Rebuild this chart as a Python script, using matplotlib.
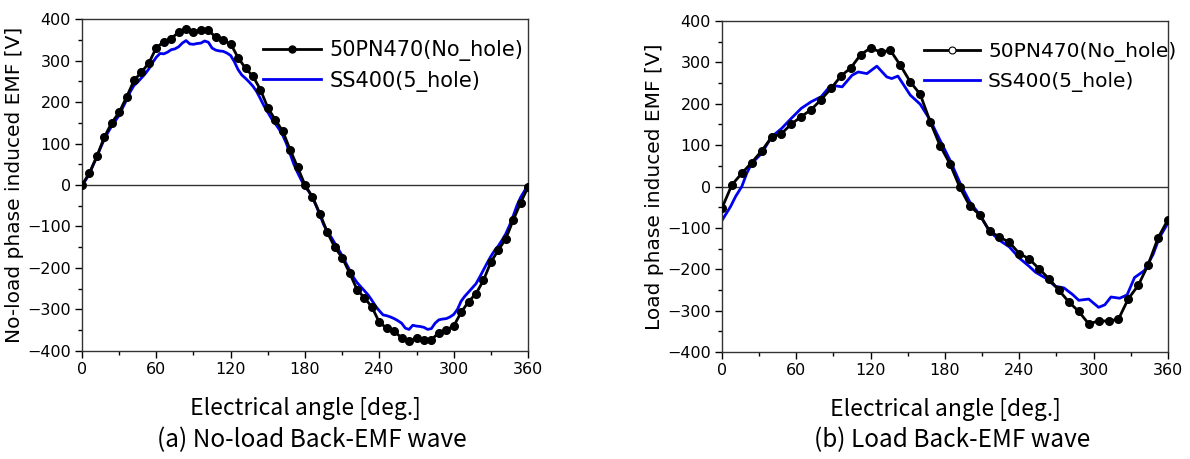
import numpy as np
import matplotlib.pyplot as plt
from matplotlib.lines import Line2D
from matplotlib.ticker import MultipleLocator

# (a) no-load back-EMF, 50PN470 sampled every 6 deg, SS400 every 3 deg
ang_a_black = np.arange(0, 361, 6)
emf_a_black = [0, 29, 69, 115, 150, 175, 212, 252, 272, 294, 331, 345, 353, 368, 376, 369,
               373, 373, 356, 349, 340, 307, 281, 262, 230, 186, 157, 130, 85, 43, 0,
               -29, -69, -114, -150, -175, -212, -252, -272, -294, -331, -345, -353, -368,
               -376, -369, -373, -373, -356, -349, -340, -307, -281, -262, -230, -186, -157,
               -130, -85, -43, -5]
ang_a_blue = np.arange(0, 361, 3)
emf_a_blue = [0, 12, 27, 48, 68, 90, 110, 127, 142, 155,
              168, 187, 205, 225, 240, 248, 258, 268, 280, 295,
              308, 317, 316, 320, 326, 328, 333, 342, 348, 340,
              339, 341, 342, 347, 344, 330, 325, 323, 322, 318,
              312, 297, 278, 265, 257, 248, 238, 225, 208, 190,
              175, 160, 148, 135, 120, 100, 75, 50, 30, 12, -5,
              -15, -30, -50, -72, -95, -112, -125, -140, -155, -170,
              -188, -205, -222, -235, -245, -255, -265, -278, -292, -303,
              -313, -315, -318, -322, -327, -333, -345, -348, -338, -340,
              -341, -343, -348, -346, -333, -325, -323, -322, -318, -312,
              -300, -280, -268, -258, -248, -238, -222, -205, -188, -172,
              -158, -147, -133, -118, -98, -75, -50, -30, -15, 0]

# (b) load back-EMF
ang_b_black = np.arange(0, 361, 8)
emf_b_black = [-52, 4, 32, 58, 86, 119, 128, 151, 169, 186, 210, 237, 267, 287, 319, 335,
               325, 329, 293, 253, 223, 157, 99, 55, -2, -47, -68, -108, -122, -135, -162,
               -175, -199, -223, -251, -279, -302, -332, -325, -325, -321, -271, -239, -189,
               -124, -80]
ang_b_blue = [0, 7, 11, 16, 20, 24, 32, 40, 48, 56, 64, 72, 80, 88, 97, 105, 110, 117, 125,
              133, 137, 142, 152, 160, 168, 176, 184, 193, 200, 208, 216, 224, 232, 240,
              248, 253, 261, 269, 276, 283, 288, 296, 304, 309, 314, 321, 327, 333, 341,
              348, 353, 360]
emf_b_blue = [-82, -48, -24, 0, 32, 56, 80, 120, 140, 165, 189, 205, 217, 245, 241, 269, 277,
              273, 291, 265, 261, 267, 221, 199, 161, 112, 64, 3, -37, -68, -108, -130, -146,
              -173, -193, -207, -221, -241, -245, -261, -275, -272, -292, -286, -267, -270,
              -262, -220, -203, -164, -124, -88]

lab_black = '50PN470(No_hole)'
lab_blue = 'SS400(5_hole)'
cap_font = ['Noto Sans CJK KR', 'DejaVu Sans']

fig = plt.figure(figsize=(11.9, 4.59), dpi=100)
ax1 = fig.add_axes([0.0689, 0.2353, 0.3748, 0.7233])
ax2 = fig.add_axes([0.6067, 0.2331, 0.3748, 0.7210])

ax1.plot(ang_a_black, emf_a_black, color='black', lw=2, marker='o', ms=5.5, zorder=3)
ax1.plot(ang_a_blue, emf_a_blue, color='#0000f0', lw=2, zorder=2)
ax2.plot(ang_b_black, emf_b_black, color='black', lw=2, marker='o', ms=5.5, zorder=3)
ax2.plot(ang_b_blue, emf_b_blue, color='#0000f0', lw=2, zorder=2)

ylabels = ['No-load phase induced EMF [V]', 'Load phase induced EMF [V]']
for ax, yl in zip([ax1, ax2], ylabels):
    ax.axhline(0, color='#333333', lw=1, zorder=1)
    ax.set_xlim(0, 360)
    ax.set_ylim(-400, 400)
    ax.xaxis.set_major_locator(MultipleLocator(60))
    ax.xaxis.set_minor_locator(MultipleLocator(30))
    ax.yaxis.set_major_locator(MultipleLocator(100))
    ax.yaxis.set_minor_locator(MultipleLocator(50))
    ax.tick_params(which='major', direction='out', length=5, width=1, labelsize=11.5, pad=3)
    ax.tick_params(which='minor', direction='out', length=3, width=1)
    for s in ax.spines.values():
        s.set_linewidth(1)
        s.set_color('#333333')
    ax.set_ylabel(yl, fontsize=14.5, labelpad=2)
    ax.set_xlabel('Electrical angle [deg.]', fontsize=16.5, family=cap_font, labelpad=14)

h1 = [Line2D([], [], color='black', lw=2, marker='o', ms=5),
      Line2D([], [], color='#0000f0', lw=2)]
h2 = [Line2D([], [], color='black', lw=2, marker='o', ms=5, mfc='white', mew=0.8),
      Line2D([], [], color='#0000f0', lw=2)]
ax1.legend(h1, [lab_black, lab_blue], loc='upper left', bbox_to_anchor=(0.405, 0.936),
           frameon=False, fontsize=15, borderpad=0, borderaxespad=0, handlelength=2.8,
           handletextpad=0.4, labelspacing=0.45)
ax2.legend(h2, [lab_black, lab_blue], loc='upper left', bbox_to_anchor=(0.452, 0.936),
           frameon=False, fontsize=14.5, borderpad=0, borderaxespad=0, handlelength=2.8,
           handletextpad=0.4, labelspacing=0.5)

fig.text(0.262, 0.041, '(a) No-load Back-EMF wave', fontsize=17.5, family=cap_font,
         ha='center', va='center')
fig.text(0.80, 0.041, '(b) Load Back-EMF wave', fontsize=17.5, family=cap_font,
         ha='center', va='center')

fig.savefig('out.png', dpi=100)
